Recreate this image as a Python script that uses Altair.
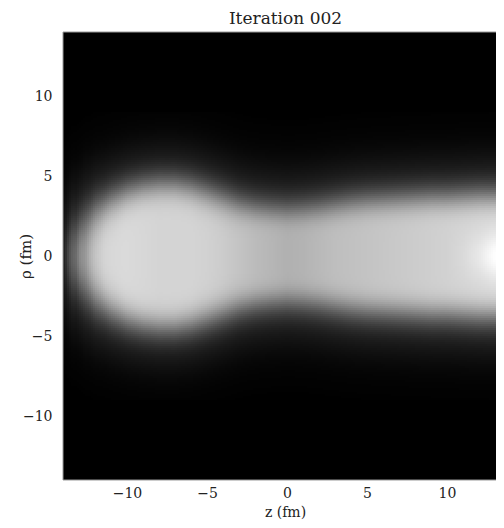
import numpy as np
import pandas as pd
import altair as alt

# ---- values -----------------------------------------------------------------
title_text = "Iteration 002"
x_title = "z (fm)"
y_title = "ρ (fm)"
tick_values = [-10, -5, 0, 5, 10]

# axial knots (fm)
z_knots = [-14, -13.5, -13, -12, -11, -10, -9, -8, -7, -6, -5, -4, -3, -2, -1, 0,
           1, 2, 3, 4, 5, 6, 7, 8, 9, 10, 11, 12, 13, 14]
# half-brightness radius of the density at each z (fm); negative = beyond the tip
half_radius = [-2.3, -1.0, 1.6, 3.1, 3.85, 4.35, 4.65, 4.8, 4.8, 4.62, 4.3, 3.95,
               3.6, 3.4, 3.3, 3.25, 3.3, 3.4, 3.55, 3.7, 3.8, 3.85, 3.9, 3.95,
               4.0, 4.0, 4.05, 4.1, 4.1, 4.1]
# core grey level inside the density at each z (0 black .. 1 white)
core_level = [0.87, 0.87, 0.87, 0.87, 0.87, 0.87, 0.86, 0.85, 0.85, 0.85, 0.84,
              0.82, 0.79, 0.76, 0.74, 0.72, 0.73, 0.75, 0.77, 0.78, 0.79, 0.80,
              0.81, 0.82, 0.83, 0.84, 0.85, 0.86, 0.87, 0.87]
# extra brightness on the axis (bright spot near z = 13)
axis_extra = [0, 0, 0, 0, 0, 0, 0, 0, 0, 0, 0, 0, 0, 0, 0, 0,
              0, 0, 0, 0, 0, 0, 0, 0, 0, 0.0, 0.02, 0.06, 0.13, 0.09]
surface_width = 0.66    # fm, softness of the edge
spot_width = 1.4        # fm, radial size of the axis spot

# ---- build the image table ---------------------------------------------------
step = 0.125
px_per_fm = 16
plot_w, plot_h = 433, 448
z_lo = -14.0
z_hi = z_lo + plot_w / px_per_fm
r_lo, r_hi = -14.0, 14.0

z0 = np.arange(z_lo, z_hi, step)
r0 = np.arange(-9.0, 9.0, step)
zc = z0 + step / 2
rc = r0 + step / 2

Rz = np.interp(zc, z_knots, half_radius)
S = Rz * np.abs(Rz)                       # signed squared radius
kernel = np.ones(9) / 9
S_s = np.convolve(np.pad(S, 4, mode="edge"), kernel, mode="valid")
dS = np.gradient(S_s, step)

Z, Rr = np.meshgrid(zc, rc)
S2 = np.broadcast_to(S, Z.shape)
dS2 = np.broadcast_to(dS, Z.shape)
dist = (Rr ** 2 - S2) / np.sqrt(4 * Rr ** 2 + dS2 ** 2 + 1e-9)
B = np.interp(Z, z_knots, core_level)
C = np.interp(Z, z_knots, axis_extra)
val = (B + C * np.exp(-(Rr / spot_width) ** 2)) / (1 + np.exp(np.clip(dist / surface_width, -50, 50)))
val = np.clip(val, 0, 1)

Z0, R0 = np.meshgrid(z0, r0)
df = pd.DataFrame({
    "z0": Z0.ravel(),
    "z1": Z0.ravel() + step,
    "r0": R0.ravel(),
    "r1": R0.ravel() + step,
    "v": val.ravel(),
})
df = df[df["v"] > 0.003]   # the rest is the black background of the frame

FONT = "DejaVu Serif"
grey = alt.Scale(domain=[0, 1], range=["#000000", "#ffffff"])

density = alt.Chart(df).mark_rect(clip=True).encode(
    x=alt.X("z0:Q",
            scale=alt.Scale(domain=[z_lo, z_hi], nice=False, zero=False),
            axis=alt.Axis(values=tick_values, title=x_title, grid=False, ticks=False,
                          labelPadding=6, labelFontSize=14, titleFontSize=14,
                          labelFont=FONT, titleFont=FONT, labelColor="#222",
                          titleColor="#222", titleFontWeight="normal",
                          domain=False, titleY=32, titleBaseline="middle",
                          titleX=222)),
    x2="z1:Q",
    y=alt.Y("r0:Q",
            scale=alt.Scale(domain=[r_lo, r_hi], nice=False, zero=False),
            axis=alt.Axis(values=tick_values, title=y_title, grid=False, ticks=False,
                          labelPadding=11, labelFontSize=14, titleFontSize=15,
                          labelFont=FONT, titleFont=FONT, labelColor="#222",
                          titleColor="#222", titleFontWeight="normal",
                          domain=False, titleX=-38, titleY=224, titleAngle=270,
                          titleBaseline="middle", titleAlign="center")),
    y2="r1:Q",
    color=alt.Color("v:Q", scale=grey, legend=None),
)

one = pd.DataFrame({"k": [0]})
edge_style = dict(stroke="#999999", strokeWidth=1)
left_edge = alt.Chart(one).mark_rule(**edge_style).encode(
    x=alt.value(0), y=alt.value(0), y2=alt.value(plot_h))
top_edge = alt.Chart(one).mark_rule(**edge_style).encode(
    x=alt.value(0), x2=alt.value(plot_w), y=alt.value(0))
bottom_edge = alt.Chart(one).mark_rule(**edge_style).encode(
    x=alt.value(0), x2=alt.value(plot_w), y=alt.value(plot_h))

chart = alt.layer(density, left_edge, top_edge, bottom_edge).properties(
    width=plot_w,
    height=plot_h,
    title=alt.TitleParams(title_text, font=FONT, fontSize=17, fontWeight="normal",
                          color="#222", anchor="middle", offset=4, dx=6),
    autosize=alt.AutoSizeParams(type="none"),
    padding={"left": 55, "top": 24, "right": 0, "bottom": 40},
    background="white",
).configure_view(fill="black", stroke=None)

chart.save("out.html", embed_options={"renderer": "svg", "actions": False})
